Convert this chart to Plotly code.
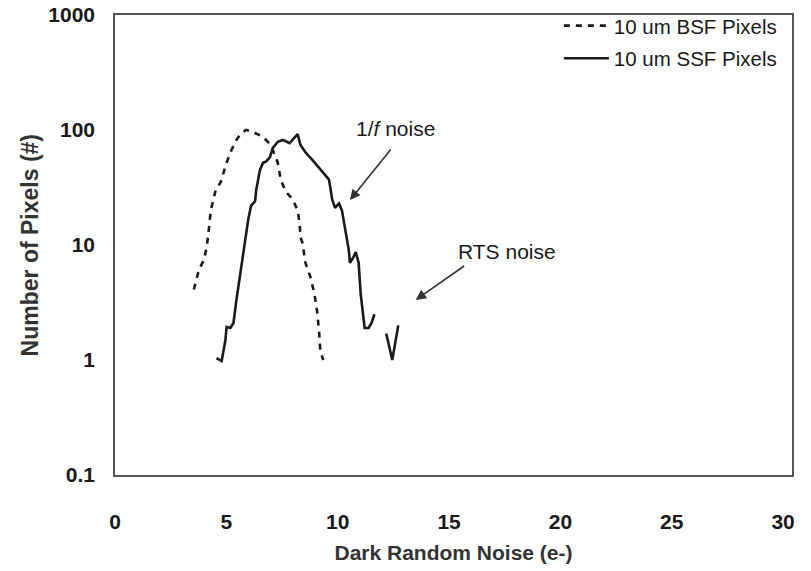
import math
import plotly.graph_objects as go

# Noise histogram data (dark random noise in e-, pixel counts)
bsf_noise = [3.54, 3.77, 3.99, 4.12, 4.21, 4.30, 4.52, 4.74, 5.01, 5.23, 5.45, 5.67,
             5.89, 6.20, 6.65, 7.00, 7.31, 7.44, 7.67, 7.98, 8.20, 8.29, 8.33, 8.42,
             8.55, 8.77, 8.95, 9.08, 9.17, 9.22, 9.35]
bsf_count = [4.1, 6.1, 7.4, 9.6, 13.5, 20, 30, 35, 52, 67, 82, 94,
             100, 96, 87, 74, 52, 37, 29, 25, 20, 15.5, 11.7, 10.4,
             7.0, 5.3, 3.8, 2.6, 1.7, 1.2, 1.0]

ssf_noise = [4.56, 4.79, 4.96, 5.01, 5.18, 5.32, 5.45, 5.63, 5.85, 5.98, 6.11, 6.29,
             6.34, 6.51, 6.65, 6.78, 6.96, 7.09, 7.31, 7.53, 7.84, 8.06, 8.20, 8.33,
             8.55, 8.86, 9.22, 9.61, 9.75, 9.88, 10.06, 10.19, 10.32, 10.50, 10.55,
             10.72, 10.81, 10.94, 11.03, 11.17, 11.21, 11.39, 11.52, 11.65,
             None, 12.18, 12.45, 12.72]
ssf_count = [1.04, 0.98, 1.5, 1.94, 1.9, 2.1, 3.3, 5.7, 10.4, 16.5, 22, 24,
             30, 45, 52, 53, 58, 70, 79, 82, 77, 85, 92, 74,
             64, 55, 45, 37, 25, 21, 23, 20, 14.3, 9.0, 7.0,
             7.9, 8.7, 7.0, 3.8, 2.0, 1.9, 1.9, 2.1, 2.5,
             None, 1.7, 1.0, 2.0]

x_ticks = [0, 5, 10, 15, 20, 25, 30]
y_ticks = [0.1, 1, 10, 100, 1000]
y_tick_text = ["0.1", "1", "10", "100", "1000"]

ink = "#1a1a1a"
sans = "Liberation Sans, Arial, sans-serif"

fig = go.Figure()
fig.add_trace(go.Scatter(
    x=bsf_noise, y=bsf_count, mode="lines", name="10 um BSF Pixels",
    legendgroup="bsf",
    line=dict(color=ink, width=2.6, dash="6px,6px"),
))
fig.add_trace(go.Scatter(
    x=ssf_noise, y=ssf_count, mode="lines", name="10 um SSF Pixels",
    legendgroup="ssf",
    line=dict(color=ink, width=2.6), connectgaps=False,
))

# Callout labels with arrows (annotation y values are log10 on the log axis)
fig.add_annotation(x=12.6, y=math.log10(104), text="1/<i>f</i> noise", showarrow=False,
                   font=dict(family=sans, size=21, color=ink),
                   xanchor="center", yanchor="middle")
fig.add_annotation(x=10.55, y=math.log10(24.6), text="", showarrow=True,
                   ax=42, ay=-52, arrowhead=2, arrowsize=1.3, arrowwidth=1.6,
                   arrowcolor="#333")
fig.add_annotation(x=17.62, y=math.log10(8.8), text="RTS noise", showarrow=False,
                   font=dict(family=sans, size=21, color=ink),
                   xanchor="center", yanchor="middle")
fig.add_annotation(x=13.5, y=math.log10(3.33), text="", showarrow=True,
                   ax=50, ay=-35, arrowhead=2, arrowsize=1.3, arrowwidth=1.6,
                   arrowcolor="#333")

# Y axis title
fig.add_annotation(xref="paper", yref="paper", x=-0.125, y=0.5, textangle=-90,
                   text="<b>Number of Pixels (#)</b>", showarrow=False,
                   xanchor="center", yanchor="middle",
                   font=dict(family=sans, size=23, color="#333"))

fig.update_layout(
    width=811, height=571,
    margin=dict(l=115, r=19, t=15, b=96, autoexpand=False),
    paper_bgcolor="white", plot_bgcolor="white",
    showlegend=True,
    legend=dict(x=0.985, y=1.02, xanchor="right", yanchor="top",
                font=dict(family=sans, size=20.5, color=ink),
                bgcolor="rgba(0,0,0,0)", tracegroupgap=3, itemwidth=45),
    xaxis=dict(
        range=[0, 30.4], tickvals=x_ticks, showgrid=False, zeroline=False,
        showline=True, linecolor="#555", linewidth=1.5, mirror=True, ticks="",
        ticklabelstandoff=27,
        tickfont=dict(family=sans, size=21, color=ink, weight="bold"),
        title=dict(text="Dark Random Noise (e-)", standoff=13,
                   font=dict(family=sans, size=21, color="#333", weight="bold")),
    ),
    yaxis=dict(
        type="log", range=[-1, 3], tickvals=y_ticks, ticktext=y_tick_text,
        showgrid=False, zeroline=False,
        showline=True, linecolor="#555", linewidth=1.5, mirror=True, ticks="",
        ticklabelstandoff=14,
        tickfont=dict(family=sans, size=21, color=ink, weight="bold"),
    ),
)

fig.write_html("out.html")
